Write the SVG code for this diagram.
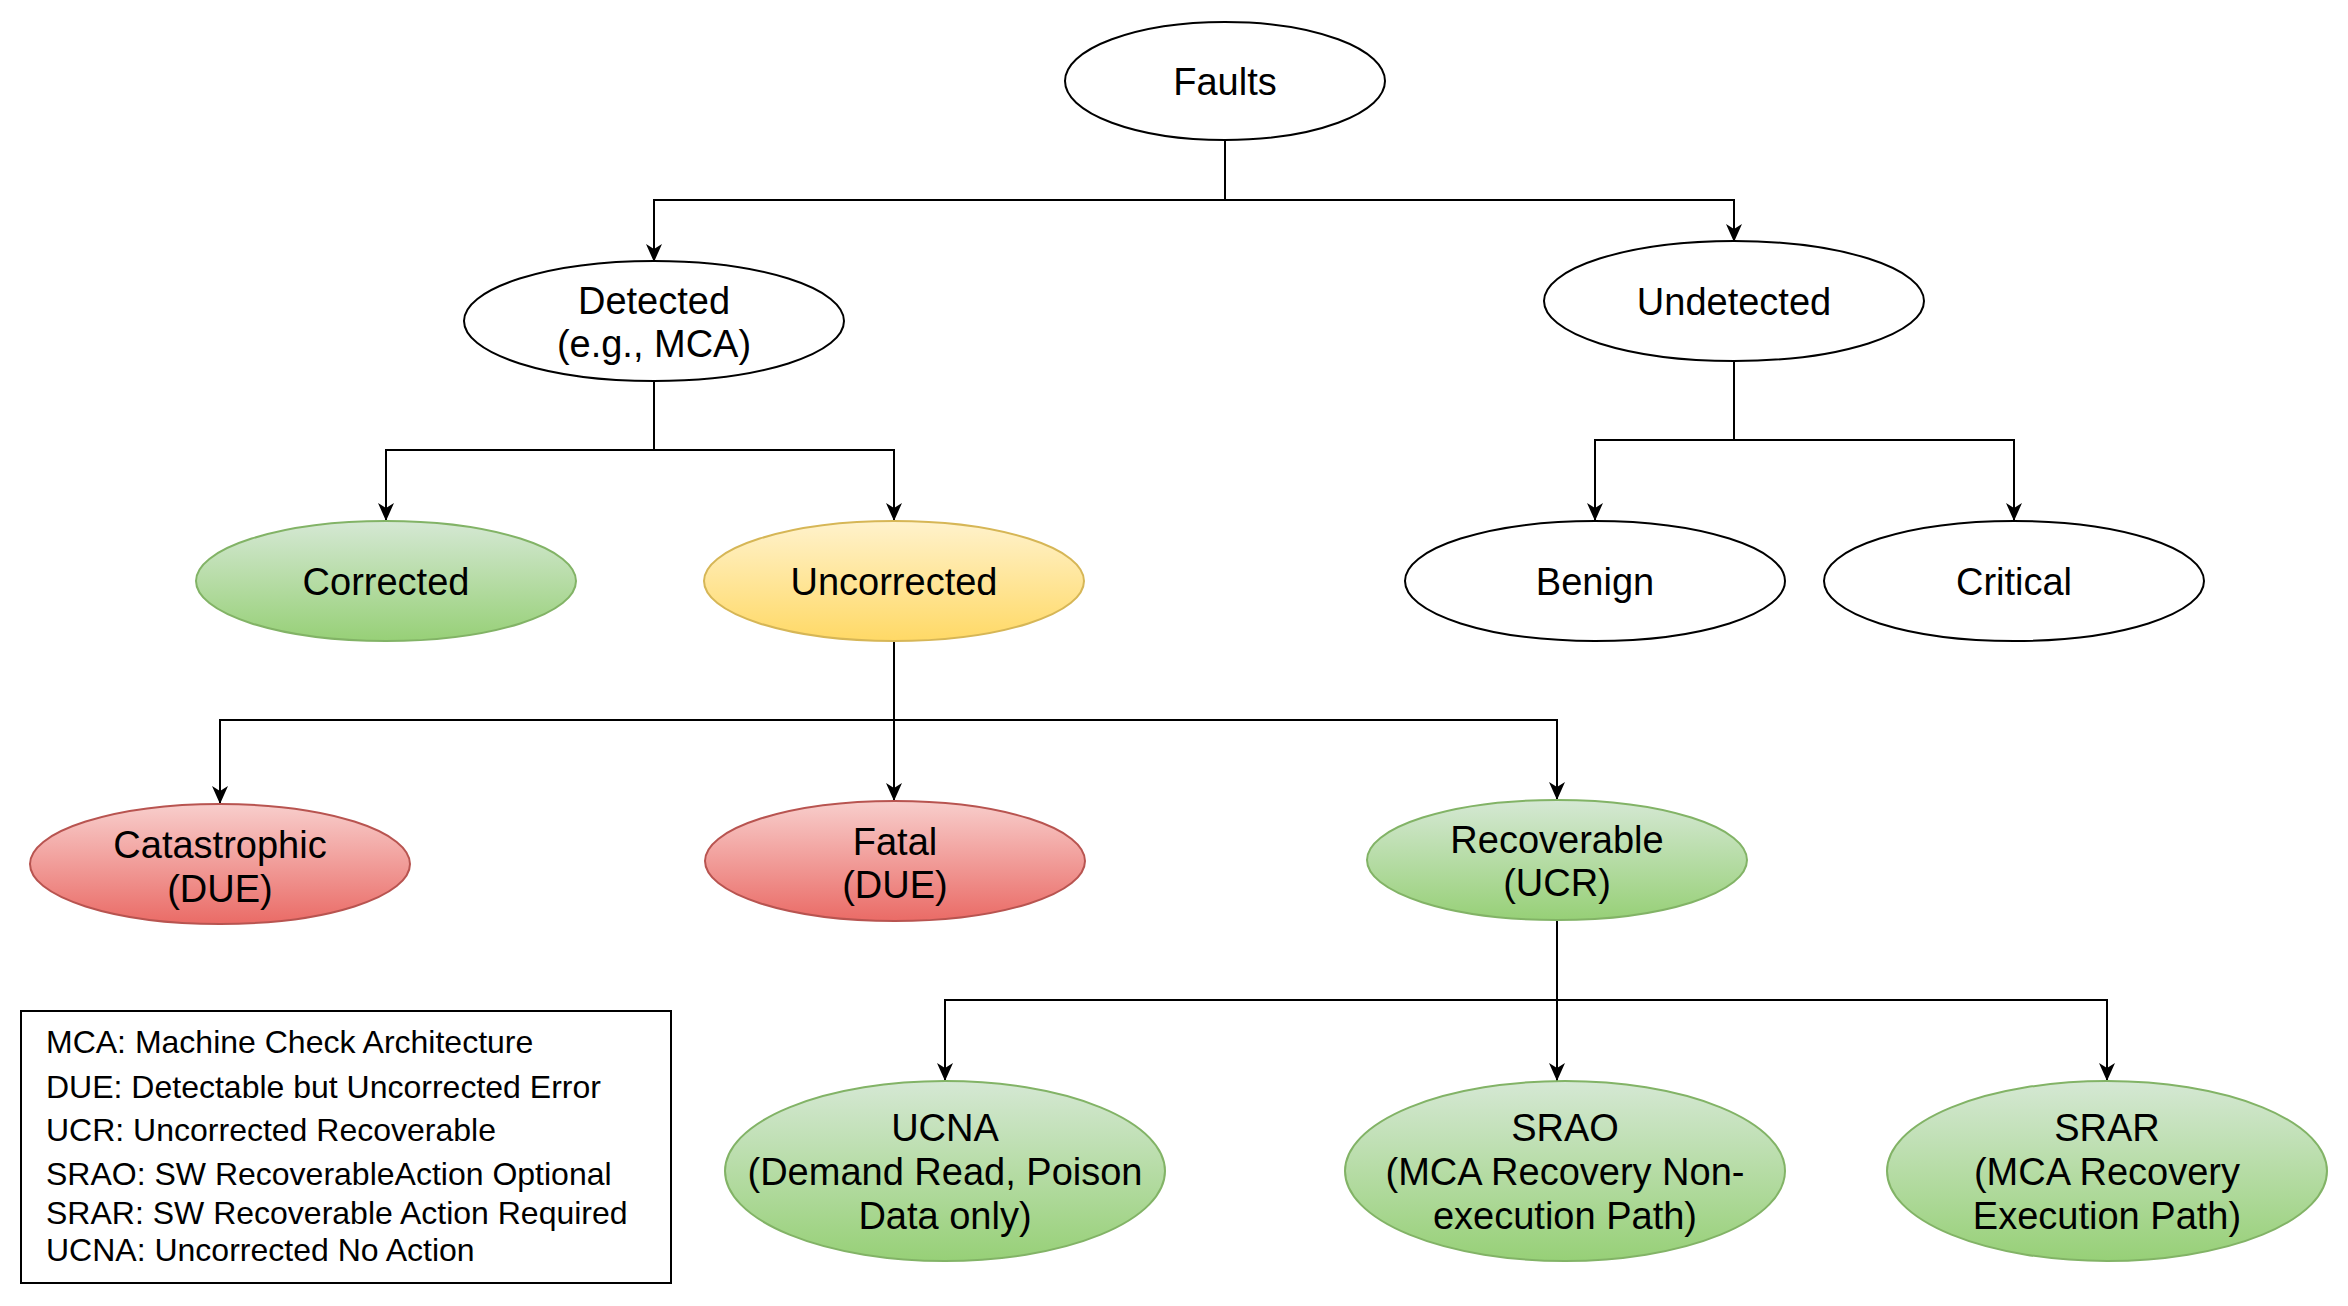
<svg xmlns="http://www.w3.org/2000/svg" width="2348" height="1306" viewBox="0 0 2348 1306">
<defs>
<linearGradient id="gGreen" x1="0" y1="0" x2="0" y2="1"><stop offset="0" stop-color="#d5e8d4"/><stop offset="1" stop-color="#97d077"/></linearGradient>
<linearGradient id="gYellow" x1="0" y1="0" x2="0" y2="1"><stop offset="0" stop-color="#fff2cc"/><stop offset="1" stop-color="#ffd966"/></linearGradient>
<linearGradient id="gRed" x1="0" y1="0" x2="0" y2="1"><stop offset="0" stop-color="#f8cecc"/><stop offset="1" stop-color="#ea6b66"/></linearGradient>
<marker id="arr" markerUnits="userSpaceOnUse" viewBox="0 0 18 16" markerWidth="18" markerHeight="16" refX="18" refY="8" orient="auto"><path d="M0,0 L18,8 L0,16 L5,8 Z" fill="#000"/></marker>
<style>
.plain{fill:#fff;stroke:#000;stroke-width:2}
.green{fill:url(#gGreen);stroke:#82b366;stroke-width:2}
.yellow{fill:url(#gYellow);stroke:#d6b656;stroke-width:2}
.red{fill:url(#gRed);stroke:#b85450;stroke-width:2}
text{font-family:"Liberation Sans",Arial,sans-serif;font-size:38px;fill:#000;text-anchor:middle}
.leg{font-size:32px;text-anchor:start}
.edge{fill:none;stroke:#000;stroke-width:2;marker-end:url(#arr)}
</style>
</defs>
<rect width="2348" height="1306" fill="#fff"/>
<g id="connectors">
<path class="edge" d="M1225 140 V200 H654 V262"/>
<path class="edge" d="M1225 140 V200 H1734 V242"/>
<path class="edge" d="M654 381 V450 H386 V521"/>
<path class="edge" d="M654 381 V450 H894 V521"/>
<path class="edge" d="M1734 361 V440 H1595 V521"/>
<path class="edge" d="M1734 361 V440 H2014 V521"/>
<path class="edge" d="M894 641 V720 H220 V804"/>
<path class="edge" d="M894 641 V801"/>
<path class="edge" d="M894 641 V720 H1557 V800"/>
<path class="edge" d="M1557 920 V1000 H945 V1081"/>
<path class="edge" d="M1557 920 V1081"/>
<path class="edge" d="M1557 920 V1000 H2107 V1081"/>
</g>
<g id="faults"><ellipse class="plain" cx="1225" cy="81" rx="160" ry="59"/><text x="1225" y="95">Faults</text></g>
<g id="detected"><ellipse class="plain" cx="654" cy="321" rx="190" ry="60"/><text x="654" y="314">Detected</text><text x="654" y="357">(e.g., MCA)</text></g>
<g id="undetected"><ellipse class="plain" cx="1734" cy="301" rx="190" ry="60"/><text x="1734" y="315">Undetected</text></g>
<g id="corrected"><ellipse class="green" cx="386" cy="581" rx="190" ry="60"/><text x="386" y="595">Corrected</text></g>
<g id="uncorrected"><ellipse class="yellow" cx="894" cy="581" rx="190" ry="60"/><text x="894" y="595">Uncorrected</text></g>
<g id="benign"><ellipse class="plain" cx="1595" cy="581" rx="190" ry="60"/><text x="1595" y="595">Benign</text></g>
<g id="critical"><ellipse class="plain" cx="2014" cy="581" rx="190" ry="60"/><text x="2014" y="595">Critical</text></g>
<g id="catastrophic"><ellipse class="red" cx="220" cy="864" rx="190" ry="60"/><text x="220" y="858">Catastrophic</text><text x="220" y="902">(DUE)</text></g>
<g id="fatal"><ellipse class="red" cx="895" cy="861" rx="190" ry="60"/><text x="895" y="855">Fatal</text><text x="895" y="898">(DUE)</text></g>
<g id="recoverable"><ellipse class="green" cx="1557" cy="860" rx="190" ry="60"/><text x="1557" y="853">Recoverable</text><text x="1557" y="896">(UCR)</text></g>
<g id="ucna"><ellipse class="green" cx="945" cy="1171" rx="220" ry="90"/><text x="945" y="1141">UCNA</text><text x="945" y="1185">(Demand Read, Poison</text><text x="945" y="1229">Data only)</text></g>
<g id="srao"><ellipse class="green" cx="1565" cy="1171" rx="220" ry="90"/><text x="1565" y="1141">SRAO</text><text x="1565" y="1185">(MCA Recovery Non-</text><text x="1565" y="1229">execution Path)</text></g>
<g id="srar"><ellipse class="green" cx="2107" cy="1171" rx="220" ry="90"/><text x="2107" y="1141">SRAR</text><text x="2107" y="1185">(MCA Recovery</text><text x="2107" y="1229">Execution Path)</text></g>
<g id="legend"><rect x="21" y="1011" width="650" height="272" fill="#fff" stroke="#000" stroke-width="2"/>
<text class="leg" x="46" y="1053">MCA: Machine Check Architecture</text>
<text class="leg" x="46" y="1098">DUE: Detectable but Uncorrected Error</text>
<text class="leg" x="46" y="1141">UCR: Uncorrected Recoverable</text>
<text class="leg" x="46" y="1185">SRAO: SW RecoverableAction Optional</text>
<text class="leg" x="46" y="1224">SRAR: SW Recoverable Action Required</text>
<text class="leg" x="46" y="1261">UCNA: Uncorrected No Action</text>
</g>
</svg>
